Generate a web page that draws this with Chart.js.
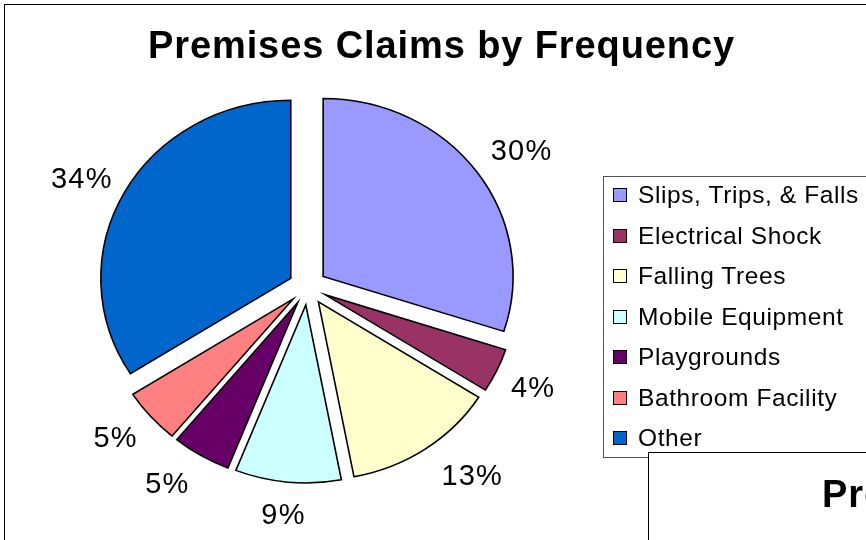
<!DOCTYPE html>
<html>
<head>
<meta charset="utf-8">
<script src="https://cdn.jsdelivr.net/npm/chart.js@4.4.0/dist/chart.umd.min.js"></script>
<style>
  html, body { margin: 0; padding: 0; background: #fff; }
  #wrap { position: relative; width: 866px; height: 540px; overflow: hidden; font-family: Arial, "Liberation Sans", sans-serif; color: #000; }
  #frame { position: absolute; left: 4px; top: 4px; width: 920px; height: 600px; border: 1.5px solid #000; box-sizing: border-box; }
  #chart { position: absolute; left: 0; top: 0; }
  #title { position: absolute; left: 0; width: 883px; top: 23px; text-align: center; font-weight: bold; font-size: 38px; line-height: 44px; letter-spacing: 0.9px; white-space: nowrap; }
  #legend { position: absolute; left: 603px; top: 176px; width: 320px; height: 282px; border: 1px solid #555; background: #fff; box-sizing: border-box; }
  .item { position: absolute; left: 0; height: 40px; line-height: 40px; font-size: 24.5px; letter-spacing: 0.6px; white-space: nowrap; }
  .mark { position: absolute; left: 9px; top: 13px; width: 14px; height: 14px; border: 1px solid #000; box-sizing: border-box; }
  .lbl { position: absolute; left: 34px; top: 0; }
  #chart2 { position: absolute; left: 648px; top: 452px; width: 400px; height: 200px; border: 1.5px solid #000; background: #fff; box-sizing: border-box; overflow: hidden; }
  #chart2 .t { position: absolute; left: 173px; top: 19px; font-weight: bold; font-size: 38px; line-height: 44px; letter-spacing: 0.9px; white-space: nowrap; }
</style>
</head>
<body>
<div id="wrap">
  <canvas id="chart" width="866" height="540"></canvas>
  <div id="frame"></div>
  <div id="title">Premises Claims by Frequency</div>
  <div id="legend"></div>
  <div id="chart2"><div class="t">Premises Claims</div></div>
</div>
<script>
// ---- data ----
const categories = ["Slips, Trips, & Falls", "Electrical Shock", "Falling Trees", "Mobile Equipment", "Playgrounds", "Bathroom Facility", "Other"];
const shares = [30, 4, 13, 9, 5, 5, 34];
const sliceColors = ["#9999FF", "#993366", "#FFFFCC", "#CCFFFF", "#660066", "#FF8080", "#0066CC"];

// ---- style constants ----
const EXPLODE = 18;      // explosion distance (px)
const SX = 1.067;        // horizontal stretch of the pie (ellipse)
const LABEL_GAP = 23;
const labelNudge = [[0, 0], [-6, 4], [16, 0], [0, 0], [-10, 0], [0, 0], [6, 4]];

// legend (HTML) built from the arrays
const legendEl = document.getElementById('legend');
categories.forEach((c, i) => {
  const row = document.createElement('div');
  row.className = 'item';
  row.style.top = (-2 + i * 40.5) + 'px';
  const m = document.createElement('div');
  m.className = 'mark';
  m.style.background = sliceColors[i];
  const t = document.createElement('span');
  t.className = 'lbl';
  t.textContent = c;
  row.appendChild(m); row.appendChild(t);
  legendEl.appendChild(row);
});

const total = shares.reduce((a, b) => a + b, 0);

const explodePlugin = {
  id: 'explode',
  beforeDatasetDraw(chart, args) {
    const ctx = chart.ctx;
    const arcs = args.meta.data;
    if (!arcs.length) return false;
    const cx = arcs[0].x, cy = arcs[0].y;
    ctx.save();
    ctx.translate(cx, cy); ctx.scale(SX, 1); ctx.translate(-cx, -cy);
    arcs.forEach(arc => {
      const mid = (arc.startAngle + arc.endAngle) / 2;
      ctx.save();
      ctx.translate(Math.cos(mid) * EXPLODE, Math.sin(mid) * EXPLODE);
      arc.draw(ctx, chart.chartArea);
      ctx.restore();
    });
    ctx.restore();
    return false;
  },
  afterDatasetsDraw(chart) {
    const ctx = chart.ctx;
    const meta = chart.getDatasetMeta(0);
    ctx.save();
    ctx.font = '29px Arial, "Liberation Sans", sans-serif';
    try { ctx.letterSpacing = '1.2px'; } catch (e) {}
    ctx.fillStyle = '#000';
    ctx.textAlign = 'center';
    ctx.textBaseline = 'middle';
    meta.data.forEach((arc, i) => {
      const mid = (arc.startAngle + arc.endAngle) / 2;
      const c = Math.cos(mid), s = Math.sin(mid);
      const vx = arc.x + c * EXPLODE * SX;
      const vy = arc.y + s * EXPLODE;
      const txt = Math.round(shares[i] / total * 100) + '%';
      const hw = ctx.measureText(txt).width / 2;
      const hh = 11;
      const R = arc.outerRadius;
      const x = vx + c * ((R + LABEL_GAP) * SX + hw) + labelNudge[i][0];
      const y = vy + s * (R + LABEL_GAP + hh) + labelNudge[i][1];
      ctx.fillText(txt, x, y);
    });
    ctx.restore();
  }
};

new Chart(document.getElementById('chart'), {
  type: 'pie',
  data: {
    labels: categories,
    datasets: [{
      data: shares,
      backgroundColor: sliceColors,
      borderColor: '#000',
      borderWidth: 1.5,
      borderJoinStyle: 'miter',
      offset: 0,
      hoverOffset: 0
    }]
  },
  options: {
    responsive: false,
    devicePixelRatio: 1,
    animation: false,
    radius: 178,
    layout: { padding: { left: 0, right: 250.8, top: 60, bottom: 26 } },
    plugins: {
      legend: { display: false },
      title: { display: false },
      tooltip: { enabled: false }
    },
    events: []
  },
  plugins: [explodePlugin]
});
</script>
</body>
</html>
